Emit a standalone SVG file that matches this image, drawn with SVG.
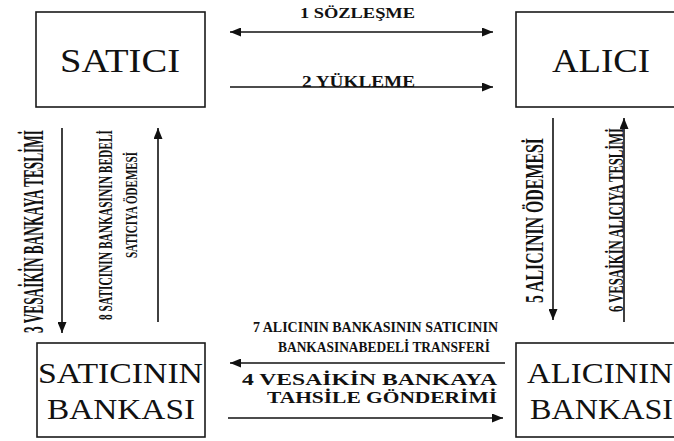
<svg xmlns="http://www.w3.org/2000/svg" width="674" height="441" viewBox="0 0 674 441">
<style>
  .box { fill: #fff; stroke: #1a1a1a; stroke-width: 1.6; }
  .name { font-family: "Liberation Serif", "Times New Roman", serif; fill: #111; }
  .bank { font-family: "Liberation Serif", "Times New Roman", serif; fill: #111; }
  .lbl { font-family: "Liberation Serif", "Times New Roman", serif; font-weight: bold; fill: #111; }
  .arr { stroke: #111; stroke-width: 1.6; fill: none; }
</style>
<defs>
  <marker id="ah" markerUnits="userSpaceOnUse" markerWidth="11" markerHeight="9" refX="11" refY="4.5" orient="auto-start-reverse" viewBox="0 0 11 9">
    <path d="M0,0 L11,4.5 L0,9 z" fill="#111"/>
  </marker>
</defs>
<rect width="674" height="441" fill="#fff"/>

<g id="satici">
  <rect class="box" x="36" y="12" width="169" height="95"/>
  <text class="name" x="60" y="72" font-size="33" textLength="120" lengthAdjust="spacingAndGlyphs">SATICI</text>
</g>
<g id="alici">
  <rect class="box" x="516" y="12" width="170" height="95"/>
  <text class="name" x="552" y="72" font-size="33" textLength="98" lengthAdjust="spacingAndGlyphs">ALICI</text>
</g>
<g id="saticinin-bankasi">
  <rect class="box" x="37" y="343" width="168" height="94"/>
  <text class="bank" x="38" y="383" font-size="29" textLength="165" lengthAdjust="spacingAndGlyphs">SATICININ</text>
  <text class="bank" x="47" y="419" font-size="29" textLength="148" lengthAdjust="spacingAndGlyphs">BANKASI</text>
</g>
<g id="alicinin-bankasi">
  <rect class="box" x="516" y="343" width="170" height="94"/>
  <text class="bank" x="527" y="383" font-size="29" textLength="146" lengthAdjust="spacingAndGlyphs">ALICININ</text>
  <text class="bank" x="530" y="419" font-size="29" textLength="143" lengthAdjust="spacingAndGlyphs">BANKASI</text>
</g>

<g id="connectors">
  <line class="arr" x1="230" y1="32" x2="493" y2="32" marker-start="url(#ah)" marker-end="url(#ah)"/>
  <line class="arr" x1="230" y1="87" x2="493" y2="87" marker-end="url(#ah)"/>
  <line class="arr" x1="505" y1="363" x2="230" y2="363" marker-end="url(#ah)"/>
  <line class="arr" x1="228" y1="418" x2="503" y2="418" marker-end="url(#ah)"/>
  <line class="arr" x1="62" y1="128" x2="62" y2="333" marker-end="url(#ah)"/>
  <line class="arr" x1="158" y1="322" x2="158" y2="128" marker-end="url(#ah)"/>
  <line class="arr" x1="553" y1="118" x2="553" y2="320" marker-end="url(#ah)"/>
  <line class="arr" x1="624" y1="322" x2="624" y2="118" marker-end="url(#ah)"/>

  <text class="lbl" x="300" y="18" font-size="15" textLength="115" lengthAdjust="spacingAndGlyphs">1  SÖZLEŞME</text>
  <text class="lbl" x="302" y="87" font-size="16" textLength="113" lengthAdjust="spacingAndGlyphs">2  YÜKLEME</text>
  <text class="lbl" x="253" y="332" font-size="14" textLength="245" lengthAdjust="spacingAndGlyphs">7  ALICININ BANKASININ SATICININ</text>
  <text class="lbl" x="278" y="352" font-size="14" textLength="212" lengthAdjust="spacingAndGlyphs">BANKASINABEDEL&#304; TRANSFER&#304;</text>
  <text class="lbl" x="242" y="385" font-size="17" textLength="255" lengthAdjust="spacingAndGlyphs">4   VESA&#304;K&#304;N BANKAYA</text>
  <text class="lbl" x="267" y="403" font-size="17" textLength="230" lengthAdjust="spacingAndGlyphs">TAHS&#304;LE GÖNDER&#304;M&#304;</text>

  <text class="lbl" transform="translate(43,333) rotate(-90)" font-size="30" textLength="203" lengthAdjust="spacingAndGlyphs">3  VESA&#304;K&#304;N BANKAYA TESL&#304;M&#304;</text>
  <text class="lbl" transform="translate(112,320) rotate(-90)" font-size="18" textLength="190" lengthAdjust="spacingAndGlyphs">8  SATICININ BANKASININ BEDEL&#304;</text>
  <text class="lbl" transform="translate(137,258) rotate(-90)" font-size="17" textLength="106" lengthAdjust="spacingAndGlyphs">SATICIYA ÖDEMES&#304;</text>
  <text class="lbl" transform="translate(543,303) rotate(-90)" font-size="25" textLength="165" lengthAdjust="spacingAndGlyphs">5  ALICININ ÖDEMES&#304;</text>
  <text class="lbl" transform="translate(623,312) rotate(-90)" font-size="21" textLength="184" lengthAdjust="spacingAndGlyphs">6  VESA&#304;K&#304;N ALICIYA TESL&#304;M&#304;</text>
</g>
</svg>
